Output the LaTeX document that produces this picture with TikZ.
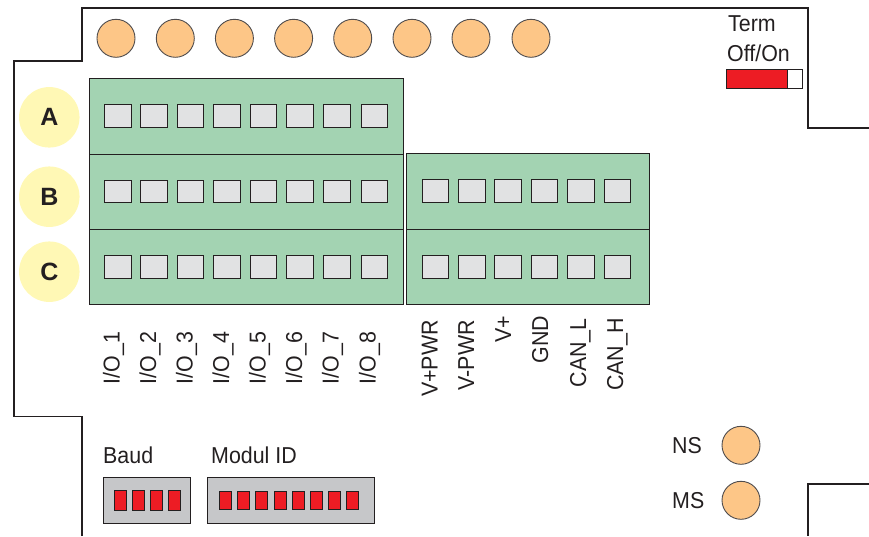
\documentclass[tikz,border=0pt]{standalone}
\usepackage{fontspec}
\setmainfont[FakeStretch=0.93,BoldFeatures={FakeStretch=1}]{Liberation Sans}
\definecolor{ink}{HTML}{231F20}
\definecolor{blockgreen}{HTML}{A3D3B2}
\definecolor{pad}{HTML}{E1E2E3}
\definecolor{led}{HTML}{FDC687}
\definecolor{rowmark}{HTML}{FFF8B5}
\definecolor{dipred}{HTML}{ED1C24}
\definecolor{dipgray}{HTML}{C6C7C9}
\tikzset{
  outline/.style={draw=ink,line width=1.8pt,line cap=butt,line join=miter},
  greenblock/.style={draw=ink,fill=blockgreen,line width=0.9pt},
  padbox/.style={draw=ink,fill=pad,line width=1pt,minimum width=26.5pt,minimum height=22.5pt,inner sep=0pt,outer sep=0pt},
  ledc/.style={circle,draw=ink!80,fill=led,line width=0.9pt,minimum size=38pt,inner sep=0pt},
  rowc/.style={circle,fill=rowmark,minimum size=60.5pt,inner sep=0pt,font=\fontsize{25}{25}\selectfont\bfseries,text=ink},
  lab/.style={font=\fontsize{23}{23}\selectfont,text=ink,inner sep=0pt,anchor=base west},
  vlab/.style={font=\fontsize{23}{23}\selectfont,text=ink,inner sep=0pt,rotate=90,anchor=base east},
  dipbody/.style={draw=ink,fill=dipgray,line width=0.9pt},
  dipsw/.style={draw=ink,fill=dipred,line width=1pt,minimum width=12pt,inner sep=0pt,outer sep=0pt},
}
\begin{document}
\begin{tikzpicture}[x=1pt,y=-1pt]
\useasboundingbox (0,0) rectangle (869,536);
% board outline
\draw[outline] (81.7,536) -- (81.7,416.5) -- (13.7,416.5) -- (13.7,61.3) -- (81.7,61.3) -- (81.7,7.7) -- (807.8,7.7) -- (807.8,128.3) -- (869,128.3);
\draw[outline] (869,484) -- (807.8,484) -- (807.8,536);
% top LEDs
\foreach \i/\x in {1/116,2/175.3,3/234.4,4/293.6,5/352.7,6/412,7/471,8/531}
  \node[ledc] (top\i) at (\x,38.3) {};
% green blocks
\draw[greenblock] (89.5,78.5) rectangle (403,154);
\draw[greenblock] (89.5,154) rectangle (403,229.5);
\draw[greenblock] (89.5,229.5) rectangle (403,304.5);
\draw[greenblock] (406.8,153.5) rectangle (649.5,229);
\draw[greenblock] (406.8,229) rectangle (649.5,304.5);
% pads
\foreach \r/\y in {a/115.8,b/191.3,c/267}
  \foreach \i/\x in {1/117.8,2/154.2,3/190.7,4/227.2,5/263.7,6/300.2,7/336.8,8/374.5}
    \node[padbox] (pad\r\i) at (\x,\y) {};
\foreach \r/\y in {d/191,e/267}
  \foreach \i/\x in {1/435.3,2/471.8,3/508.2,4/544.7,5/581,6/617.7}
    \node[padbox] (pad\r\i) at (\x,\y) {};
% row markers
\node[rowc] (rowA) at (49.3,117.3) {A};
\node[rowc] (rowB) at (49.3,196.7) {B};
\node[rowc] (rowC) at (49.3,271.7) {C};
% vertical labels
\foreach \i/\x in {1/119.5,2/156,3/192.5,4/229,5/265.5,6/302,7/338.5,8/375.5}
  \node[vlab] (io\i) at (\x,331.5) {I/O\_\i};
\node[vlab] (vpwrp) at (437.5,320) {V+PWR};
\node[vlab] (vpwrm) at (474,320) {V-PWR};
\node[vlab] (vplus) at (511,316) {V+};
\node[vlab] (gnd) at (548,315.5) {GND};
\node[vlab] (canl) at (586,318) {CAN\_L};
\node[vlab] (canh) at (623,318) {CAN\_H};
% term switch
\node[lab] (term) at (728,31.5) {Term};
\node[lab] (offon) at (727,61) {Off/On};
\draw[draw=ink,fill=white,line width=0.9pt] (726.8,69.2) rectangle (802.7,88.3);
\draw[draw=ink,fill=dipred,line width=0.9pt] (726.8,69.2) rectangle (787.7,88.3);
% DIP switches
\node[lab] (baud) at (103,463.5) {Baud};
\node[lab] (modid) at (211,463.5) {Modul ID};
\draw[dipbody] (103.3,477.3) rectangle (190.7,523.3);
\draw[dipbody] (207.7,477.3) rectangle (374.7,523.3);
\foreach \i/\x in {1/120,2/138,3/156,4/174}
  \node[dipsw,minimum height=20pt] (bd\i) at (\x,500) {};
\foreach \i/\x in {1/225.5,2/243.6,3/261.8,4/280,5/298.2,6/316.4,7/334.6,8/352.8}
  \node[dipsw,minimum height=18pt] (id\i) at (\x,500) {};
% status LEDs
\node[lab] (ns) at (672,453.5) {NS};
\node[lab] (ms) at (672,508) {MS};
\node[ledc] (nsled) at (741,445.3) {};
\node[ledc] (msled) at (741,500.3) {};
\end{tikzpicture}
\end{document}
